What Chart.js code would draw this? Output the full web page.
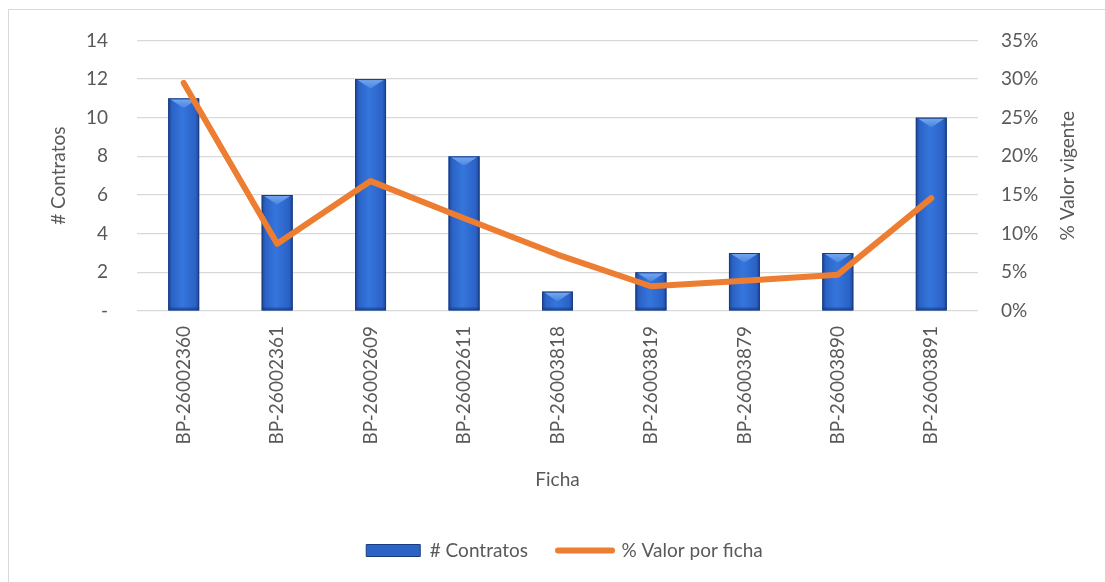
<!DOCTYPE html>
<html>
<head>
<meta charset="utf-8">
<script src="https://cdn.jsdelivr.net/npm/chart.js@4.4.0/dist/chart.umd.min.js"></script>
<style>
  html, body { margin: 0; padding: 0; background: #fff; overflow: hidden; }
  #frame { position: absolute; left: 8px; top: 9px; width: 1300px; height: 800px; border: 1px solid #d9d9d9; box-sizing: border-box; }
  #wrap { position: absolute; left: 0; top: 0; width: 1105px; height: 582px; }
</style>
</head>
<body>
<div id="frame"></div>
<div id="wrap"><canvas id="c" width="1105" height="582"></canvas></div>
<script>
const categories = ['BP-26002360','BP-26002361','BP-26002609','BP-26002611','BP-26003818','BP-26003819','BP-26003879','BP-26003890','BP-26003891'];
const contratos = [11, 6, 12, 8, 1, 2, 3, 3, 10];
const valorPorFicha = [29.5, 8.7, 16.8, 12.0, 7.3, 3.2, 3.9, 4.7, 14.6];
const leftTicks = [0, 2, 4, 6, 8, 10, 12, 14];
const rightTicks = [0, 5, 10, 15, 20, 25, 30, 35];
const rightTitle = '% Valor vigente';

const FONT = 'Lato, "Open Sans", sans-serif';
const FS = 19;
const TXT = '#595959';

const bevelPlugin = {
  id: 'bevel',
  afterDatasetDraw(chart, args) {
    if (args.index !== 0) return;
    const ctx = chart.ctx;
    const meta = chart.getDatasetMeta(0);
    ctx.save();
    meta.data.forEach(el => {
      const w = el.width, l = el.x - w / 2, r = el.x + w / 2, t = el.y, b = el.base;
      const g = ctx.createLinearGradient(l, 0, r, 0);
      g.addColorStop(0, '#1c4596');
      g.addColorStop(0.12, '#2b62c6');
      g.addColorStop(0.45, '#3576dc');
      g.addColorStop(0.88, '#2b62c6');
      g.addColorStop(1, '#1c4596');
      ctx.fillStyle = g;
      ctx.fillRect(l, t, w, b - t);
      const bev = Math.min(9, (b - t) / 2);
      const gt = ctx.createLinearGradient(0, t, 0, t + bev);
      gt.addColorStop(0, '#7aaaf0');
      gt.addColorStop(1, '#4a86e2');
      ctx.fillStyle = gt;
      ctx.beginPath();
      ctx.moveTo(l + 1, t); ctx.lineTo(r - 1, t); ctx.lineTo(el.x + 1, t + bev); ctx.lineTo(el.x - 1, t + bev); ctx.closePath();
      ctx.fill();
      ctx.fillStyle = 'rgba(20,45,100,0.35)';
      ctx.fillRect(l, b - 3, w, 3);
      ctx.strokeStyle = '#1a3d82';
      ctx.lineWidth = 1;
      ctx.strokeRect(l + 0.5, t + 0.5, w - 1, b - t - 1);
    });
    ctx.restore();
  }
};

const rightTitlePlugin = {
  id: 'rightTitle',
  afterDraw(chart) {
    const ctx = chart.ctx, a = chart.chartArea;
    ctx.save();
    ctx.translate(1068, (a.top + a.bottom) / 2);
    ctx.rotate(-Math.PI / 2);
    ctx.font = FS + 'px ' + FONT;
    ctx.fillStyle = TXT;
    ctx.textAlign = 'center';
    ctx.textBaseline = 'middle';
    ctx.fillText(rightTitle, 0, 0);
    ctx.restore();
  }
};

new Chart(document.getElementById('c'), {
  data: {
    labels: categories,
    datasets: [
      {
        type: 'bar',
        label: '# Contratos',
        data: contratos,
        yAxisID: 'y',
        backgroundColor: '#2c63c4',
        borderColor: '#1a3d82',
        borderWidth: 0,
        barPercentage: 0.33,
        categoryPercentage: 1.0,
        order: 1
      },
      {
        type: 'line',
        label: '% Valor por ficha',
        data: valorPorFicha,
        yAxisID: 'y1',
        borderColor: '#ED7D31',
        backgroundColor: '#ED7D31',
        borderWidth: 6,
        pointRadius: 0,
        pointHoverRadius: 0,
        borderCapStyle: 'round',
        borderJoinStyle: 'round',
        tension: 0,
        order: 0
      }
    ]
  },
  options: {
    responsive: false,
    animation: false,
    layout: { padding: { top: 23.5, right: 0, left: 24, bottom: 12 } },
    plugins: {
      tooltip: { enabled: false },
      legend: {
        position: 'bottom',
        labels: {
          font: { family: FONT, size: FS },
          color: TXT,
          usePointStyle: true,
          pointStyleWidth: 54,
          boxHeight: 12,
          padding: 30,
          sort: (a, b) => a.datasetIndex - b.datasetIndex,
          generateLabels(chart) {
            const items = Chart.defaults.plugins.legend.labels.generateLabels(chart);
            items.forEach(it => {
              if (it.datasetIndex === 0) { it.fillStyle = '#2c63c4'; it.strokeStyle = '#1a3d82'; it.lineWidth = 1; it.pointStyle = 'rect'; }
              else { it.strokeStyle = '#ED7D31'; it.lineWidth = 6; it.pointStyle = 'line'; it.lineCap = 'round'; }
            });
            return items;
          }
        }
      }
    },
    scales: {
      x: {
        grid: { display: false, drawTicks: false },
        border: { display: false },
        ticks: { font: { family: FONT, size: FS }, color: TXT, minRotation: 90, maxRotation: 90, padding: 15, autoSkip: false },
        title: { display: true, text: 'Ficha', font: { family: FONT, size: FS }, color: TXT, padding: { top: 12, bottom: 20 } },
        afterFit(axis) { axis.height = 200; }
      },
      y: {
        position: 'left',
        min: 0, max: 14,
        afterBuildTicks(axis) { axis.ticks = leftTicks.map(v => ({ value: v })); },
        grid: { color: '#d9d9d9', lineWidth: 1.3, drawTicks: false },
        border: { display: false },
        ticks: { font: { family: FONT, size: FS }, color: TXT, padding: 29, callback: v => v === 0 ? '-' : String(v) },
        title: { display: true, text: '# Contratos', font: { family: FONT, size: FS }, color: TXT, padding: { top: 23, bottom: 0 } },
        afterFit(axis) { axis.width = 113; }
      },
      y1: {
        position: 'right',
        min: 0, max: 35,
        afterBuildTicks(axis) { axis.ticks = rightTicks.map(v => ({ value: v })); },
        grid: { display: false, drawTicks: false },
        border: { display: false },
        ticks: { font: { family: FONT, size: FS }, color: TXT, padding: 23, callback: v => v + '%' },
        afterFit(axis) { axis.width = 127; }
      }
    }
  },
  plugins: [bevelPlugin, rightTitlePlugin]
});
</script>
</body>
</html>
